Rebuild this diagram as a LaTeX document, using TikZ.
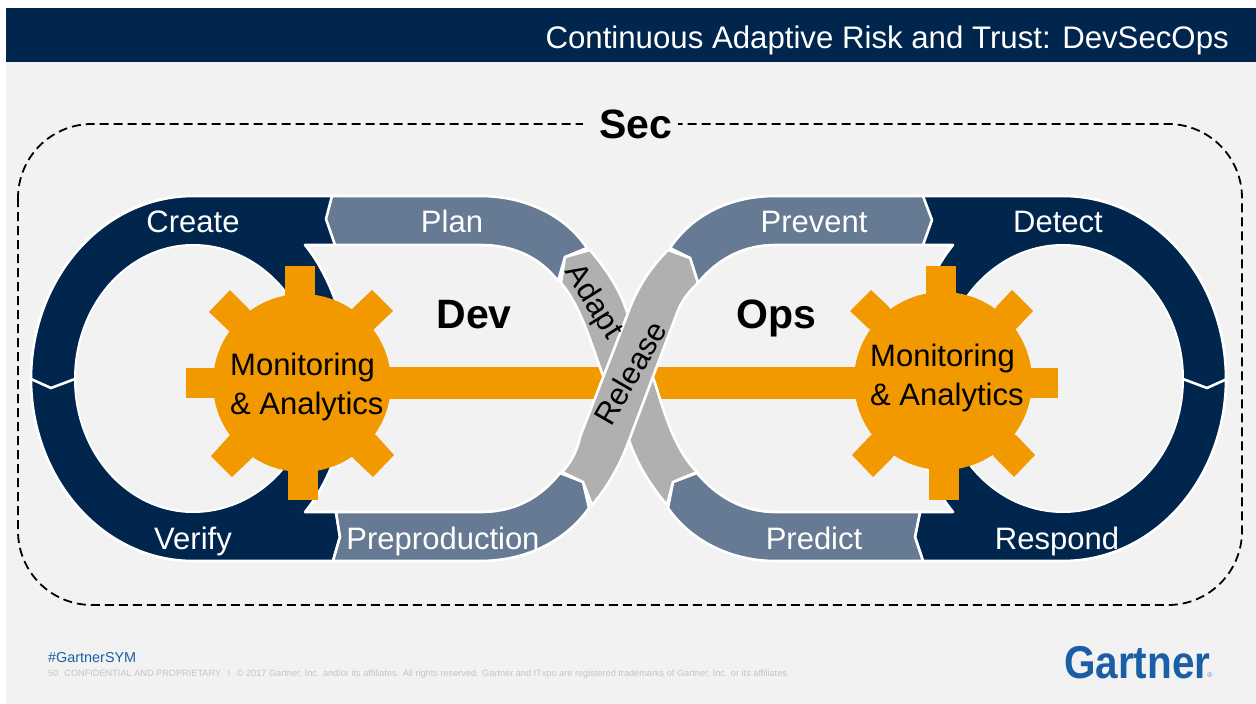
\documentclass[tikz,border=0pt]{standalone}
\usepackage{graphicx}
\usepackage{fontspec}
\setmainfont{Liberation Sans}
\definecolor{navy}{HTML}{00264D}
\definecolor{slate}{HTML}{667A94}
\definecolor{band}{HTML}{B0B0B0}
\definecolor{amber}{HTML}{F29900}
\definecolor{pagebg}{HTML}{F2F2F2}
\definecolor{gblue}{HTML}{1A5FA5}
\definecolor{fine}{HTML}{C4C4C4}
\newcommand{\fs}[1]{\fontsize{#1}{#1}\selectfont}
\tikzset{
  seg/.style={draw=white,line width=2.6pt,line join=round},
  navyseg/.style={seg,fill=navy},
  slateseg/.style={seg,fill=slate},
  greyseg/.style={seg,fill=band},
  hole/.style={draw=white,line width=2pt,fill=pagebg},
  gearpart/.style={fill=amber,draw=none},
  wlabel/.style={text=white,font=\fs{31},inner sep=0pt,anchor=base},
  blabel/.style={text=black,font=\fs{31},inner sep=0pt},
  bigbold/.style={text=black,font=\fs{41}\bfseries,inner sep=0pt,anchor=base},
  gearlabel/.style={text=black,font=\fs{31},inner sep=0pt,align=left,anchor=west},
}
\begin{document}
\begin{tikzpicture}[x=1pt,y=-1pt]
\useasboundingbox (0,0) rectangle (1256,704);
\fill[white] (0,0) rectangle (1256,704);
\fill[pagebg] (6,8) rectangle (1256,704);
\fill[navy] (6,8) rectangle (1256,62);
\node[anchor=base east,text=white,font=\fs{31.2},inner sep=0pt] (title) at (1229,48) {Continuous Adaptive Risk and Trust: DevSecOps};
% dashed frame
\draw[black,line width=1.8pt,dash pattern=on 9pt off 5pt,rounded corners=74pt] (18,124) rectangle (1242,605);
\fill[pagebg] (583,105) rectangle (678,145);
\node[bigbold] (sec) at (636,138) {Sec};
% left navy ring
\path[navyseg] (193,196) -- (340,196) -- (340,245) -- (305,245)
  .. controls (330,275) and (350,330) .. (350,379)
  .. controls (350,428) and (330,482) .. (305,512)
  -- (336,512) -- (340,537) -- (333,561) -- (193,561)
  .. controls (103,561) and (31,479) .. (31,379)
  .. controls (31,278) and (103,196) .. (193,196) -- cycle;
\path[hole] (193,245) .. controls (260,245) and (315,305) .. (315,379)
  .. controls (315,453) and (260,512) .. (193,512)
  .. controls (128,512) and (75,453) .. (75,379)
  .. controls (75,305) and (128,245) .. (193,245) -- cycle;
\draw[white,line width=2.6pt] (31,379) -- (51,388) -- (75,379);
% right navy ring
\path[navyseg] (1063,196) -- (915,196) -- (915,245) -- (953,245)
  .. controls (928,275) and (908,330) .. (908,379)
  .. controls (908,428) and (928,482) .. (953,512)
  -- (920,512) -- (915,537) -- (923,561) -- (1063,561)
  .. controls (1154,561) and (1226,479) .. (1226,379)
  .. controls (1226,278) and (1154,196) .. (1063,196) -- cycle;
\path[hole] (1063,245) .. controls (996,245) and (941,305) .. (941,379)
  .. controls (941,453) and (996,512) .. (1063,512)
  .. controls (1129,512) and (1183,453) .. (1183,379)
  .. controls (1183,305) and (1129,245) .. (1063,245) -- cycle;
\draw[white,line width=2.6pt] (1183,379) -- (1207,388) -- (1227,379);
% slate segments
\path[slateseg] (332,196) -- (480,196) .. controls (525,196) and (565,215) .. (587,248)
  -- (565,257) -- (558,281) .. controls (540,258) and (515,245) .. (480,245)
  -- (335,245) -- (326,219) -- cycle;
\path[slateseg] (336,512) -- (480,512) .. controls (515,512) and (540,498) .. (560,473)
  -- (583,482) -- (589,508) .. controls (565,542) and (525,561) .. (480,561)
  -- (333,561) -- (340,537) -- cycle;
\path[slateseg] (670,248) .. controls (692,215) and (730,196) .. (775,196)
  -- (923,196) -- (932,220) -- (923,245) -- (775,245)
  .. controls (745,245) and (718,258) .. (698,283) -- (690,258) -- cycle;
\path[slateseg] (668,508) .. controls (690,540) and (730,561) .. (775,561)
  -- (923,561) -- (915,537) -- (920,512) -- (775,512)
  .. controls (745,512) and (718,498) .. (697,473) -- (673,482) -- cycle;
% bars
\fill[amber] (302,367) rectangle (612,399);
\fill[amber] (645,367) rectangle (943,399);
% left gear
\fill[gearpart] (302,383) circle (89pt);
\fill[gearpart] (285,266) -- (315,266) -- (315,300) -- (285,300) -- cycle;
\fill[gearpart] (288,500) -- (318,500) -- (318,465) -- (288,465) -- cycle;
\fill[gearpart] (186,368) rectangle (225,398);
\fill[gearpart] (209,312) -- (230,290) -- (248,308) -- (302,383) -- (228,330) -- cycle;
\fill[gearpart] (372,290) -- (393,311) -- (373,330) -- (302,383) -- (353,308) -- cycle;
\fill[gearpart] (211,456) -- (232,477) -- (252,458) -- (302,383) -- (230,435) -- cycle;
\fill[gearpart] (394,455) -- (373,477) -- (353,458) -- (302,383) -- (376,435) -- cycle;
% right gear
\fill[gearpart] (943,381) circle (89pt);
\fill[gearpart] (926,266) -- (956,266) -- (956,300) -- (926,300) -- cycle;
\fill[gearpart] (929,500) -- (959,500) -- (959,465) -- (929,465) -- cycle;
\fill[gearpart] (1020,368) rectangle (1058,398);
\fill[gearpart] (850,311) -- (871,290) -- (888,306) -- (943,381) -- (868,328) -- cycle;
\fill[gearpart] (1012,290) -- (1033,311) -- (1017,328) -- (943,381) -- (997,306) -- cycle;
\fill[gearpart] (852,455) -- (873,477) -- (892,458) -- (943,381) -- (870,436) -- cycle;
\fill[gearpart] (1035,455) -- (1014,477) -- (995,458) -- (943,381) -- (1017,436) -- cycle;
% adapt band
\path[greyseg] (561,283) -- (565,257) -- (590,250)
  .. controls (607,270) and (620,290) .. (627,312)
  -- (655,383) .. controls (665,415) and (675,450) .. (697,472)
  -- (673,482) -- (667,505) .. controls (650,485) and (638,465) .. (630,443)
  -- (602,373) .. controls (590,340) and (580,305) .. (561,283) -- cycle;
% release band
\path[greyseg] (668,250) -- (690,258) -- (698,283)
  .. controls (685,295) and (680,305) .. (677,313)
  -- (628,443) .. controls (620,465) and (607,488) .. (592,505)
  -- (583,482) -- (562,472) .. controls (572,462) and (578,448) .. (580,437)
  -- (628,313) .. controls (637,288) and (650,268) .. (668,250) -- cycle;
% labels
\node[wlabel] (create) at (193,232) {Create};
\node[wlabel] (verify) at (193,549) {Verify};
\node[wlabel] (plan) at (452,232) {Plan};
\node[wlabel] (preprod) at (443,549) {Preproduction};
\node[wlabel] (prevent) at (814,232) {Prevent};
\node[wlabel] (predict) at (814,549) {Predict};
\node[wlabel] (detect) at (1058,232) {Detect};
\node[wlabel] (respond) at (1057,549) {Respond};
\node[blabel,rotate=-58] (adapt) at (593,302) {Adapt};
\node[blabel,rotate=60] (release) at (630,373) {Release};
\node[bigbold] (dev) at (474,328) {Dev};
\node[bigbold] (ops) at (776,328) {Ops};
\node[gearlabel] (monl) at (230,387) {Monitoring\\[8pt]\& Analytics};
\node[gearlabel] (monr) at (870,378) {Monitoring\\[8pt]\& Analytics};
% footer
\node[anchor=west,text=gblue,font=\fs{14.4},inner sep=0pt] (tag) at (48,658) {\#GartnerSYM};
\node[anchor=west,text=fine,font=\fs{9.18},inner sep=0pt] (legal) at (48,674) {50\hspace{6pt}CONFIDENTIAL AND PROPRIETARY\hspace{4pt} I \hspace{4pt}© 2017 Gartner, Inc. and/or its affiliates. All rights reserved. Gartner and ITxpo are registered trademarks of Gartner, Inc. or its affiliates.};
\node[anchor=base west,text=gblue,font=\fs{46}\bfseries,inner sep=0pt] (logo) at (1064,678) {\scalebox{0.88}[1]{Gartner}};
\node[text=gblue!70,font=\fs{7},inner sep=0pt] (reg) at (1210,675.5) {®};
\end{tikzpicture}
\end{document}
